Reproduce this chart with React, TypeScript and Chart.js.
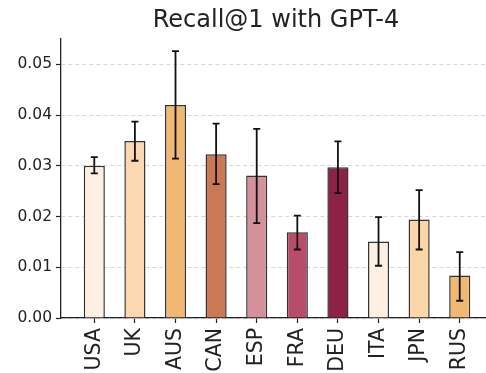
import React, { useEffect, useRef } from "react";
import { Chart, registerables } from "chart.js";

Chart.register(...registerables);

const title = "Recall@1 with GPT-4";
const countries = ["USA", "UK", "AUS", "CAN", "ESP", "FRA", "DEU", "ITA", "JPN", "RUS"];
const recall = [0.030, 0.0349, 0.0420, 0.0323, 0.0281, 0.0169, 0.0297, 0.0151, 0.0194, 0.0084];
const errLow = [0.0285, 0.0310, 0.0314, 0.0264, 0.0187, 0.0135, 0.0246, 0.0103, 0.0135, 0.0034];
const errHigh = [0.0317, 0.0387, 0.0526, 0.0383, 0.0373, 0.0202, 0.0348, 0.0199, 0.0252, 0.0130];
const barColors = [
  "#fdf0e2", "#fbd8b0", "#f1b874", "#cb7955", "#d4919b",
  "#b84c6b", "#8d2146", "#fdf0e2", "#fbd6a9", "#f0b870",
];
const yTicks = [0, 0.01, 0.02, 0.03, 0.04, 0.05];

const FONT = "'DejaVu Sans', 'Noto Sans', sans-serif";

const errorBarPlugin = {
  id: "errorBars",
  afterDatasetsDraw(chart: any) {
    const { ctx, scales } = chart;
    const xs = scales.x;
    const ys = scales.y;
    ctx.save();
    ctx.strokeStyle = "#111";
    ctx.lineWidth = 1.8;
    const cap = 3.5;
    countries.forEach((_, i) => {
      const x = xs.getPixelForValue(i);
      const y1 = ys.getPixelForValue(errLow[i]);
      const y2 = ys.getPixelForValue(errHigh[i]);
      ctx.beginPath();
      ctx.moveTo(x, y1);
      ctx.lineTo(x, y2);
      ctx.moveTo(x - cap, y1);
      ctx.lineTo(x + cap, y1);
      ctx.moveTo(x - cap, y2);
      ctx.lineTo(x + cap, y2);
      ctx.stroke();
    });
    ctx.restore();
  },
};

const axesTitlePlugin = {
  id: "axesTitle",
  afterDraw(chart: any) {
    const { ctx, chartArea } = chart;
    ctx.save();
    ctx.fillStyle = "#222";
    ctx.font = `24px ${FONT}`;
    ctx.textAlign = "center";
    ctx.textBaseline = "middle";
    ctx.fillText(title, (chartArea.left + chartArea.right) / 2, 21);
    ctx.restore();
  },
};

export default function App() {
  const ref = useRef<HTMLCanvasElement>(null);
  useEffect(() => {
    if (!ref.current) return;
    const chart = new Chart(ref.current, {
      type: "bar",
      data: {
        datasets: [
          {
            data: recall.map((v, i) => ({ x: i, y: v })),
            backgroundColor: barColors,
            borderColor: "#333",
            borderWidth: 1.5,
            categoryPercentage: 1,
            barPercentage: 0.52,
          } as any,
        ],
      },
      options: {
        responsive: false,
        animation: false,
        devicePixelRatio: 1,
        layout: { padding: { left: 0, right: 9, top: 39, bottom: 0 } },
        plugins: {
          legend: { display: false },
          tooltip: { enabled: false },
          title: { display: false },
        },
        scales: {
          x: {
            type: "linear",
            offset: false,
            min: -0.82,
            max: 9.77,
            afterBuildTicks: (s: any) => {
              s.ticks = countries.map((_, i) => ({ value: i }));
            },
            afterFit: (s: any) => {
              s.height = 55;
              s.paddingLeft = 0;
              s.paddingRight = 0;
            },
            ticks: {
              autoSkip: false,
              minRotation: 90,
              maxRotation: 90,
              padding: 5,
              color: "#222",
              font: { family: FONT, size: 20.5 },
              callback: (v: any) => countries[Math.round(Number(v))] ?? "",
            },
            grid: {
              display: true,
              offset: false,
              drawOnChartArea: false,
              drawTicks: true,
              tickLength: 5,
              tickColor: "#222",
              tickWidth: 1.2,
            },
            border: { display: true, color: "#222", width: 1.3 },
          },
          y: {
            min: 0,
            max: 0.055,
            afterBuildTicks: (s: any) => {
              s.ticks = yTicks.map((v) => ({ value: v }));
            },
            afterFit: (s: any) => {
              s.width = 61;
              s.paddingTop = 0;
              s.paddingBottom = 0;
            },
            ticks: {
              padding: 4,
              color: "#222",
              font: { family: FONT, size: 15.5 },
              callback: (v: any) => Number(v).toFixed(2),
            },
            grid: {
              display: true,
              drawOnChartArea: true,
              drawTicks: true,
              tickLength: 5,
              color: "#d2d2d2",
              lineWidth: 0.9,
              tickColor: "#222",
              tickWidth: 1.2,
              tickBorderDash: [],
            },
            border: { display: true, color: "#222", width: 1.3, dash: [4, 3] },
          },
        },
      },
      plugins: [errorBarPlugin, axesTitlePlugin],
    });
    return () => chart.destroy();
  }, []);

  return (
    <div
      style={{
        position: "fixed",
        left: 0,
        top: 0,
        width: 486,
        height: 373,
        overflow: "hidden",
        background: "#fff",
      }}
    >
      <canvas ref={ref} width={500} height={373} style={{ display: "block" }} />
    </div>
  );
}
